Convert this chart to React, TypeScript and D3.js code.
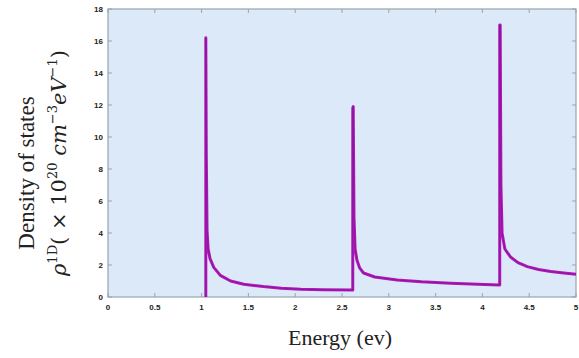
import React from "react";
import * as d3 from "d3";

const energy = [1.045, 1.045, 1.05, 1.058, 1.07, 1.09, 1.13, 1.2, 1.31, 1.45, 1.66, 1.85, 2.06, 2.3, 2.615, 2.615, 2.62, 2.628, 2.64, 2.66, 2.69, 2.73, 2.85, 3.09, 3.35, 3.66, 3.95, 4.185, 4.185, 4.19, 4.198, 4.21, 4.24, 4.3, 4.38, 4.48, 4.6, 4.73, 4.87, 5.0];
const dos = [0, 16.2, 9.0, 4.2, 3.0, 2.4, 1.85, 1.35, 1.0, 0.8, 0.65, 0.55, 0.48, 0.45, 0.43, 11.8, 11.9, 5.0, 3.0, 2.3, 1.8, 1.5, 1.25, 1.06, 0.95, 0.86, 0.8, 0.75, 17.0, 17.0, 7.0, 4.0, 3.0, 2.5, 2.15, 1.9, 1.72, 1.6, 1.5, 1.42];
const xTicks = [0, 0.5, 1, 1.5, 2, 2.5, 3, 3.5, 4, 4.5, 5];
const yTicks = [0, 2, 4, 6, 8, 10, 12, 14, 16, 18];

export default function App() {
  const W = 579, H = 358;
  const x = d3.scaleLinear().domain([0, 5]).range([108, 576]);
  const y = d3.scaleLinear().domain([0, 18]).range([297, 9]);
  const line = d3.line<number>().x((_, i) => x(energy[i])).y((d) => y(d)).curve(d3.curveLinear);
  const path = line(dos) || "";
  return (
    <svg width={W} height={H} style={{ position: "absolute", left: 0, top: 0, background: "#fff" }}>
      <rect x={x(0)} y={y(18)} width={x(5) - x(0)} height={y(0) - y(18)} fill="#dce9f8" stroke="#9aa3ad" strokeWidth={1.2} />
      {xTicks.map((t) => (
        <g key={"x" + t}>
          <line x1={x(t)} x2={x(t)} y1={y(0)} y2={y(0) - 4} stroke="#9aa3ad" />
          <line x1={x(t)} x2={x(t)} y1={y(18)} y2={y(18) + 4} stroke="#9aa3ad" />
          <text x={x(t)} y={y(0) + 13} fontSize={8} fontWeight="bold" fontFamily="Arial, Liberation Sans, sans-serif" textAnchor="middle" fill="#222">{t}</text>
        </g>
      ))}
      {yTicks.map((t) => (
        <g key={"y" + t}>
          <line x1={x(0)} x2={x(0) + 4} y1={y(t)} y2={y(t)} stroke="#9aa3ad" />
          <line x1={x(5)} x2={x(5) - 4} y1={y(t)} y2={y(t)} stroke="#9aa3ad" />
          <text x={x(0) - 5} y={y(t) + 3} fontSize={8} fontWeight="bold" fontFamily="Arial, Liberation Sans, sans-serif" textAnchor="end" fill="#222">{t}</text>
        </g>
      ))}
      <path d={path} fill="none" stroke="#b01ab8" strokeWidth={3} strokeLinejoin="round" />
      <path d={path} fill="none" stroke="#7a1090" strokeWidth={1} strokeLinejoin="round" opacity={0.6} />
      <text x={340} y={345} fontSize={22} fontFamily="Liberation Serif, Times New Roman, serif" textAnchor="middle" fill="#222">Energy (ev)</text>
      <text transform="translate(34,173) rotate(-90)" fontSize={23} fontFamily="Liberation Serif, Times New Roman, serif" textAnchor="middle" fill="#222">Density of states</text>
      <text transform="translate(66,163) rotate(-90)" fontSize={21} fontFamily="DejaVu Serif, Liberation Serif, serif" textAnchor="middle" fill="#222">
        <tspan fontStyle="italic">ρ</tspan>
        <tspan fontSize={13} dy={-9}>1D</tspan>
        <tspan dy={9}>( × 10</tspan>
        <tspan fontSize={13} dy={-9}>20</tspan>
        <tspan dy={9} fontStyle="italic"> cm</tspan>
        <tspan fontSize={13} dy={-9}>−3</tspan>
        <tspan dy={9} fontStyle="italic">eV</tspan>
        <tspan fontSize={13} dy={-9}>−1</tspan>
        <tspan dy={9}>)</tspan>
      </text>
    </svg>
  );
}
